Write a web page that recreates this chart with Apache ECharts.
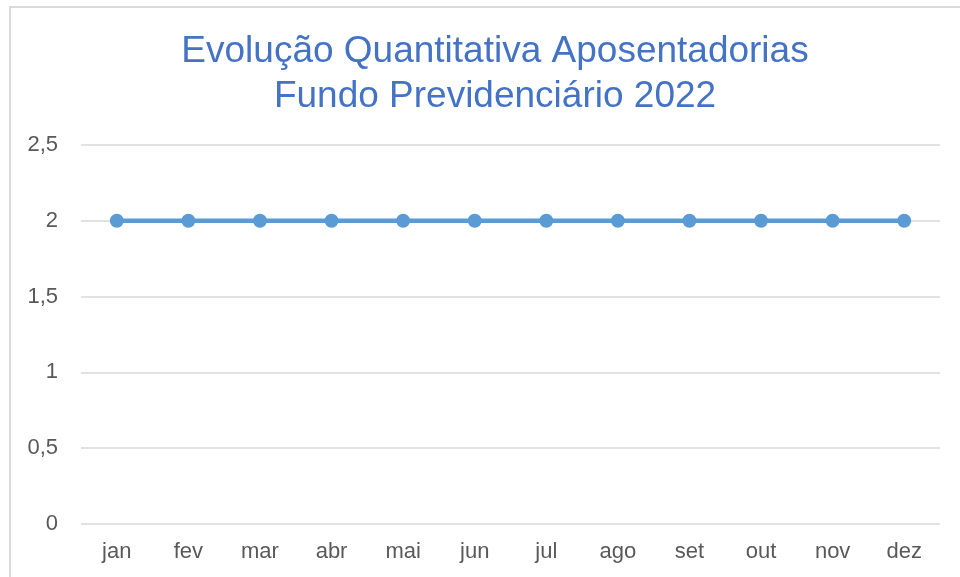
<!DOCTYPE html>
<html>
<head>
<meta charset="utf-8">
<script src="https://cdn.jsdelivr.net/npm/echarts@6/dist/echarts.min.js"></script>
<style>
  html, body { margin: 0; padding: 0; background: #fff; }
  #moldura { position: absolute; left: 9px; top: 6px; width: 1000px; height: 600px; border: 2px solid #dadada; }
  #grafico { position: absolute; left: 0; top: 0; width: 960px; height: 577px; }
</style>
</head>
<body>
<div id="moldura"></div>
<div id="grafico"></div>
<script>
// Meses do ano (eixo x)
const meses = ["jan", "fev", "mar", "abr", "mai", "jun", "jul", "ago", "set", "out", "nov", "dez"];
// Quantidade de aposentadorias por mês
const aposentadorias = [2, 2, 2, 2, 2, 2, 2, 2, 2, 2, 2, 2];
// Limites do eixo y
const eixoYMin = 0;
const eixoYMax = 2.5;
const eixoYPasso = 0.5;

const chart = echarts.init(document.getElementById("grafico"));
chart.setOption({
    animation: false,
    title: {
        text: "Evolução Quantitativa Aposentadorias\nFundo Previdenciário 2022",
        left: 490,
        textAlign: "center",
        top: 24,
        textStyle: {
            color: "#4472c4",
            fontFamily: "Liberation Sans",
            fontWeight: "normal",
            fontSize: 37,
            lineHeight: 45
        }
    },
    grid: {
        left: 81,
        right: 20,
        top: 145,
        bottom: 53,
        containLabel: false
    },
    xAxis: {
        type: "category",
        data: meses,
        boundaryGap: true,
        axisLine: { show: false },
        axisTick: { show: false },
        axisLabel: {
            color: "#595959",
            fontFamily: "Liberation Sans",
            fontSize: 22,
            margin: 17
        }
    },
    yAxis: {
        type: "value",
        min: eixoYMin,
        max: eixoYMax,
        interval: eixoYPasso,
        axisLine: { show: false },
        axisTick: { show: false },
        axisLabel: {
            color: "#595959",
            fontFamily: "Liberation Sans",
            fontSize: 22,
            margin: 23,
            formatter: v => String(v).replace(".", ",")
        },
        splitLine: {
            lineStyle: { color: "#d9d9d9", width: 1.5 }
        }
    },
    series: [{
        type: "line",
        data: aposentadorias,
        symbol: "circle",
        symbolSize: 14,
        lineStyle: { color: "#5b9bd5", width: 4.5 },
        itemStyle: { color: "#5b9bd5" }
    }]
});
</script>
</body>
</html>
